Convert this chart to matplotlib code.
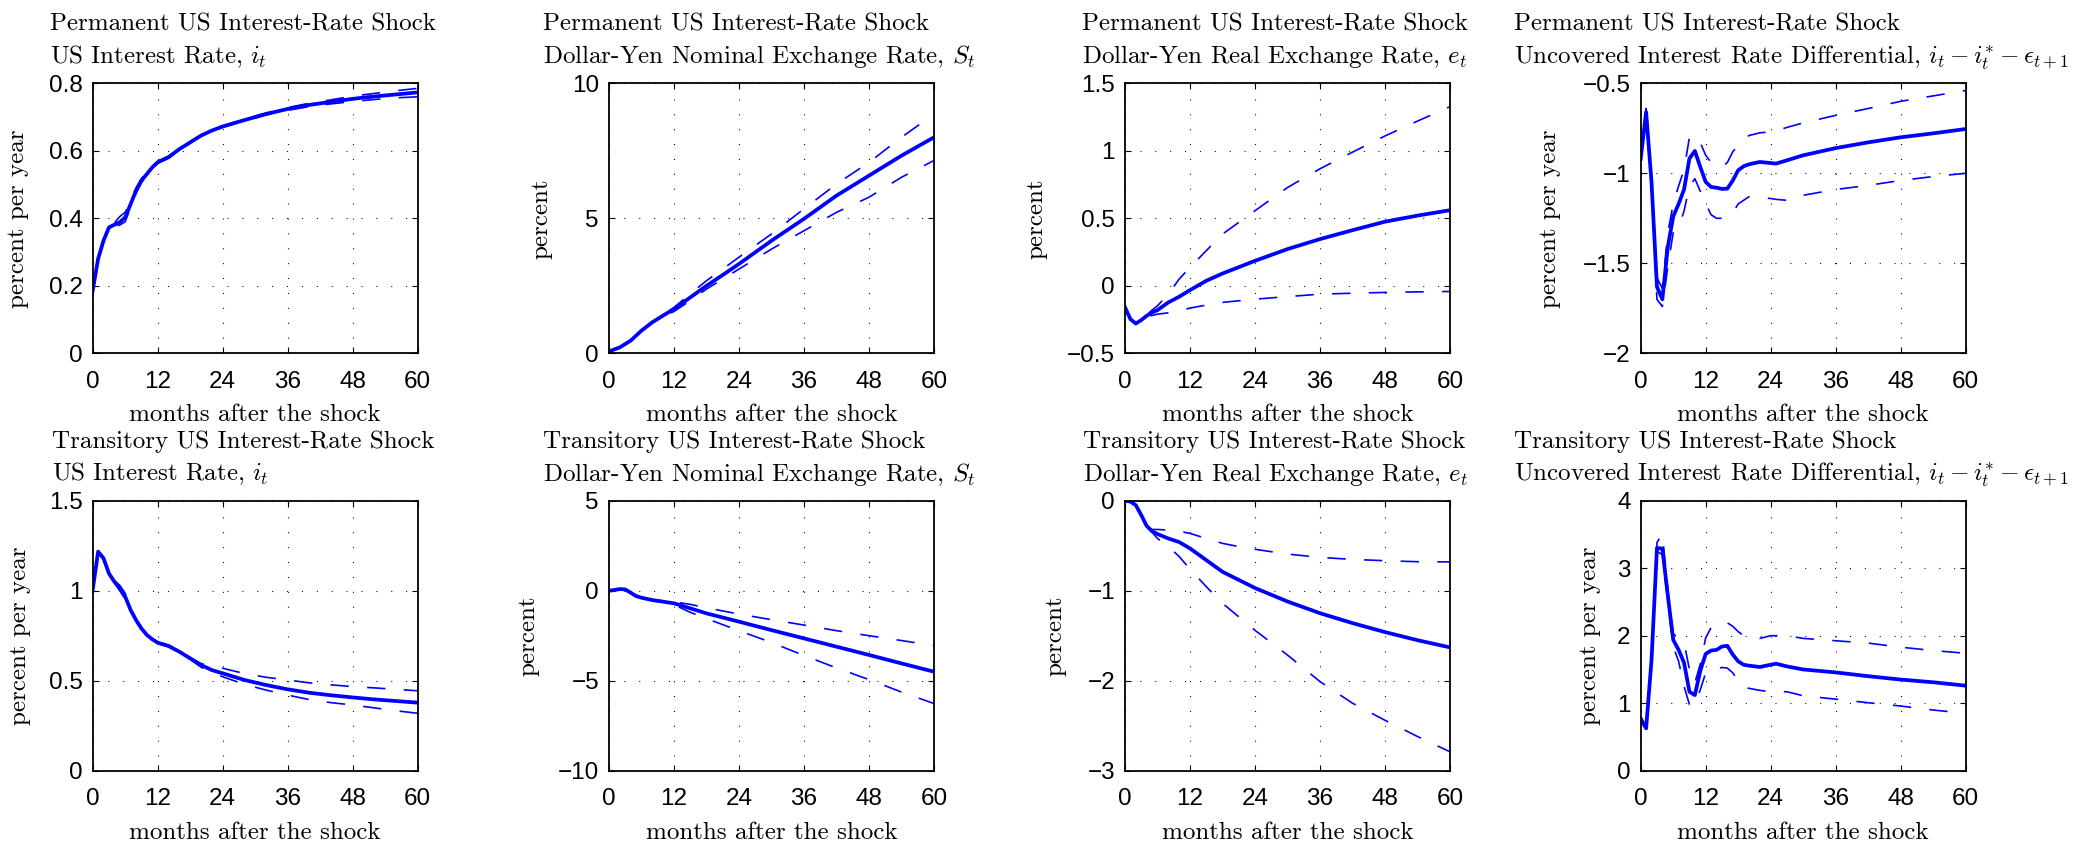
import matplotlib
matplotlib.use('Agg')
import matplotlib.pyplot as plt
from matplotlib.ticker import FuncFormatter, FixedLocator

plt.rcParams['font.family'] = ['Liberation Sans', 'DejaVu Sans']
plt.rcParams['mathtext.fontset'] = 'cm'

# ---------------- data ----------------
# Panel 1: permanent shock, US interest rate
m_p1 = [0, 1, 2, 3, 4, 5, 6, 7, 8, 9, 10, 11, 12, 14, 16, 18, 20, 22, 24, 28, 32, 36, 40, 44, 48, 52, 56, 60]
p1_mid = [0.186, 0.28, 0.334, 0.373, 0.381, 0.388, 0.403, 0.442, 0.482, 0.512, 0.531, 0.551, 0.566, 0.581, 0.605,
          0.625, 0.645, 0.66, 0.672, 0.691, 0.709, 0.724, 0.736, 0.745, 0.754, 0.761, 0.767, 0.773]
p1_hi = [0.186, 0.282, 0.338, 0.377, 0.386, 0.405, 0.418, 0.452, 0.49, 0.518, 0.537, 0.555, 0.569, 0.584, 0.607,
         0.627, 0.647, 0.662, 0.674, 0.694, 0.712, 0.728, 0.741, 0.751, 0.762, 0.77, 0.778, 0.785]
p1_lo = [0.186, 0.278, 0.330, 0.369, 0.376, 0.380, 0.390, 0.432, 0.474, 0.506, 0.526, 0.547, 0.563, 0.578, 0.603,
         0.623, 0.643, 0.658, 0.670, 0.688, 0.706, 0.72, 0.731, 0.739, 0.746, 0.752, 0.757, 0.760]

# Panel 2: permanent shock, nominal exchange rate
m_p2 = [0, 2, 4, 6, 8, 10, 12, 15, 18, 21, 24, 30, 36, 42, 48, 54, 60]
p2_mid = [0.07, 0.22, 0.47, 0.84, 1.15, 1.40, 1.64, 2.07, 2.5, 2.9, 3.31, 4.17, 4.98, 5.84, 6.58, 7.32, 8.0]
p2_hi = [0.07, 0.22, 0.47, 0.85, 1.17, 1.43, 1.70, 2.2, 2.69, 3.12, 3.56, 4.42, 5.35, 6.27, 7.07, 8.0, 8.86]
p2_lo = [0.07, 0.22, 0.47, 0.83, 1.13, 1.37, 1.55, 1.95, 2.38, 2.75, 3.12, 3.86, 4.54, 5.22, 5.78, 6.52, 7.14]

# Panel 3: permanent shock, real exchange rate
m_p3 = [0, 1, 2, 3, 4, 5, 6, 8, 10, 12, 15, 18, 24, 30, 36, 42, 48, 54, 60]
p3_mid = [-0.16, -0.247, -0.28, -0.254, -0.222, -0.198, -0.18, -0.123, -0.081, -0.032, 0.037, 0.091, 0.185,
          0.272, 0.346, 0.412, 0.475, 0.52, 0.56]
p3_hi = [-0.16, -0.247, -0.28, -0.254, -0.215, -0.18, -0.148, -0.062, 0.05, 0.136, 0.26, 0.383, 0.556, 0.728,
         0.867, 0.99, 1.11, 1.22, 1.327]
p3_lo = [-0.16, -0.247, -0.28, -0.254, -0.228, -0.22, -0.21, -0.20, -0.185, -0.165, -0.143, -0.123, -0.099,
         -0.08, -0.062, -0.055, -0.049, -0.045, -0.042]

# Panel 4: permanent shock, uncovered interest rate differential
m_p4 = [0, 1, 2, 3, 4, 5, 6, 7, 8, 9, 10, 11, 12, 13, 14, 15, 16, 17, 18, 19, 20, 22, 24, 25, 27, 30, 36, 42, 48, 54, 60]
p4_mid = [-0.92, -0.66, -1.05, -1.63, -1.70, -1.41, -1.24, -1.17, -1.09, -0.918, -0.876, -0.965, -1.048, -1.076,
          -1.08, -1.087, -1.085, -1.04, -0.983, -0.961, -0.95, -0.937, -0.943, -0.946, -0.928, -0.90, -0.86,
          -0.828, -0.80, -0.778, -0.754]
p4_hi = [-0.92, -0.64, -1.02, -1.58, -1.64, -1.33, -1.17, -1.07, -0.98, -0.80, -0.79, -0.83, -0.90, -0.94, -0.96,
         -0.965, -0.94, -0.88, -0.845, -0.81, -0.79, -0.775, -0.77, -0.765, -0.745, -0.72, -0.678, -0.64, -0.60,
         -0.57, -0.54]
p4_lo = [-0.92, -0.68, -1.08, -1.70, -1.74, -1.52, -1.33, -1.30, -1.21, -1.07, -1.03, -1.10, -1.17, -1.23, -1.25,
         -1.25, -1.24, -1.22, -1.17, -1.15, -1.13, -1.135, -1.14, -1.145, -1.15, -1.122, -1.09, -1.067, -1.04,
         -1.018, -1.0]

# Panel 5: transitory shock, US interest rate
m_p5 = [0, 1, 2, 3, 4, 5, 6, 7, 8, 9, 10, 11, 12, 14, 16, 18, 20, 22, 24, 28, 32, 36, 40, 44, 48, 52, 56, 60]
p5_mid = [1.004, 1.217, 1.18, 1.096, 1.05, 1.013, 0.967, 0.893, 0.837, 0.79, 0.754, 0.73, 0.711, 0.693, 0.661,
          0.624, 0.587, 0.559, 0.541, 0.504, 0.476, 0.452, 0.433, 0.419, 0.407, 0.396, 0.387, 0.378]
p5_hi = [1.004, 1.219, 1.184, 1.1, 1.056, 1.03, 0.985, 0.9, 0.842, 0.794, 0.758, 0.734, 0.715, 0.698, 0.666,
         0.629, 0.595, 0.58, 0.569, 0.54, 0.519, 0.504, 0.488, 0.477, 0.467, 0.46, 0.452, 0.444]
p5_lo = [1.004, 1.215, 1.176, 1.092, 1.045, 1.0, 0.955, 0.886, 0.832, 0.786, 0.75, 0.726, 0.707, 0.688, 0.656,
         0.619, 0.575, 0.545, 0.522, 0.48, 0.448, 0.42, 0.395, 0.378, 0.365, 0.349, 0.333, 0.319]

# Panel 6: transitory shock, nominal exchange rate
m_p6 = [0, 1, 2, 3, 4, 5, 6, 8, 10, 12, 15, 18, 24, 30, 36, 42, 48, 54, 60]
p6_mid = [0, 0.04, 0.09, 0.07, -0.11, -0.3, -0.39, -0.52, -0.61, -0.7, -0.98, -1.26, -1.72, -2.19, -2.65, -3.11,
          -3.57, -4.04, -4.5]
p6_hi = [0, 0.04, 0.09, 0.07, -0.11, -0.3, -0.39, -0.50, -0.56, -0.62, -0.76, -0.95, -1.30, -1.61, -1.91, -2.22,
         -2.50, -2.77, -3.05]
p6_lo = [0, 0.04, 0.09, 0.07, -0.11, -0.3, -0.39, -0.54, -0.66, -0.78, -1.2, -1.55, -2.22, -2.88, -3.6, -4.29,
         -4.94, -5.63, -6.27]

# Panel 7: transitory shock, real exchange rate
m_p7 = [0, 1, 2, 3, 4, 5, 6, 8, 10, 12, 15, 18, 21, 24, 30, 36, 42, 48, 54, 60]
p7_mid = [0, -0.01, -0.05, -0.16, -0.28, -0.34, -0.37, -0.42, -0.46, -0.53, -0.66, -0.79, -0.88, -0.97, -1.12,
          -1.25, -1.36, -1.46, -1.55, -1.63]
p7_hi = [0, -0.01, -0.05, -0.16, -0.28, -0.32, -0.32, -0.326, -0.34, -0.363, -0.42, -0.474, -0.51, -0.54, -0.593,
         -0.63, -0.652, -0.667, -0.678, -0.68]
p7_lo = [0, -0.01, -0.05, -0.16, -0.28, -0.35, -0.42, -0.51, -0.62, -0.76, -0.955, -1.14, -1.29, -1.44, -1.715,
         -2.01, -2.25, -2.44, -2.62, -2.79]

# Panel 8: transitory shock, uncovered interest rate differential
m_p8 = [0, 1, 2, 3, 4, 5, 6, 7, 8, 9, 10, 11, 12, 13, 14, 15, 16, 17, 18, 19, 20, 22, 24, 25, 27, 30, 36, 42, 48, 54, 60]
p8_mid = [0.775, 0.627, 1.64, 3.30, 3.29, 2.6, 1.94, 1.79, 1.6, 1.17, 1.12, 1.48, 1.73, 1.78, 1.79, 1.84, 1.85,
          1.72, 1.62, 1.57, 1.556, 1.536, 1.57, 1.585, 1.545, 1.50, 1.456, 1.40, 1.35, 1.31, 1.26]
p8_hi = [0.775, 0.63, 1.7, 3.38, 3.51, 2.68, 2.03, 1.95, 1.9, 1.5, 1.3, 1.58, 1.97, 2.12, 2.18, 2.19, 2.19, 2.14,
         2.06, 2.0, 1.98, 1.96, 2.0, 2.0, 2.0, 1.96, 1.925, 1.89, 1.83, 1.78, 1.74]
p8_lo = [0.775, 0.625, 1.6, 3.25, 3.2, 2.5, 1.84, 1.62, 1.25, 0.98, 0.97, 1.2, 1.45, 1.5, 1.50, 1.53, 1.52, 1.45,
         1.33, 1.24, 1.22, 1.19, 1.17, 1.17, 1.17, 1.11, 1.06, 1.007, 0.958, 0.899, 0.849]

row_titles = ['Permanent US Interest-Rate Shock', 'Transitory US Interest-Rate Shock']
var_titles = [r'US Interest Rate, $i_t$',
              r'Dollar-Yen Nominal Exchange Rate, $S_t$',
              r'Dollar-Yen Real Exchange Rate, $e_t$',
              r'Uncovered Interest Rate Differential, $i_t - i_t^{*} - \epsilon_{t+1}$']
y_labels = ['percent per year', 'percent', 'percent', 'percent per year']
x_label = 'months after the shock'
x_ticks = [0, 12, 24, 36, 48, 60]
y_ticks = [[0, 0.2, 0.4, 0.6, 0.8], [0, 5, 10], [-0.5, 0, 0.5, 1, 1.5], [-2, -1.5, -1, -0.5],
           [0, 0.5, 1, 1.5], [-10, -5, 0, 5], [-3, -2, -1, 0], [0, 1, 2, 3, 4]]

series = [(m_p1, p1_mid, p1_hi, p1_lo), (m_p2, p2_mid, p2_hi, p2_lo), (m_p3, p3_mid, p3_hi, p3_lo),
          (m_p4, p4_mid, p4_hi, p4_lo), (m_p5, p5_mid, p5_hi, p5_lo), (m_p6, p6_mid, p6_hi, p6_lo),
          (m_p7, p7_mid, p7_hi, p7_lo), (m_p8, p8_mid, p8_hi, p8_lo)]

# ---------------- layout ----------------
W, H = 2074, 843
fig = plt.figure(figsize=(W / 100, H / 100), dpi=100)
renderer = fig.canvas.get_renderer()
lefts = [92.7, 609, 1125, 1640.7]
tops = [83.3, 500.7]
aw, ah = 325, 270
ylabel_off = [63.4, 56.3, 78, 79.7, 61.7, 70, 58.3, 39.7]

fmt = FuncFormatter(lambda v, _: ('%g' % v).replace('-', '\u2212'))
blue = (0, 0, 1)
title_kw = dict(fontfamily='cmr10', fontsize=18, ha='left', va='baseline')

for i, (m, mid, hi, lo) in enumerate(series):
    r, c = divmod(i, 4)
    ax = fig.add_axes([lefts[c] / W, 1 - (tops[r] + ah) / H, aw / W, ah / H])
    ax.plot(m, hi, color=blue, lw=1.2, ls=(0, (11, 11)))
    ax.plot(m, lo, color=blue, lw=1.2, ls=(0, (11, 11)))
    ax.plot(m, mid, color=blue, lw=2.7, solid_joinstyle='round')
    ax.set_xlim(0, 60)
    yt = y_ticks[i]
    ax.set_ylim(yt[0], yt[-1])
    ax.xaxis.set_major_locator(FixedLocator(x_ticks))
    ax.yaxis.set_major_locator(FixedLocator(yt))
    ax.xaxis.set_major_formatter(fmt)
    ax.yaxis.set_major_formatter(fmt)
    ax.grid(True, color='k', linestyle=(0, (0.9, 12.5)), linewidth=0.8)
    ax.tick_params(direction='in', top=True, right=True, length=4, width=0.8, labelsize=17.5)
    ax.tick_params(axis='x', pad=12.5)
    ax.tick_params(axis='y', pad=7.2)
    for s in ax.spines.values():
        s.set_linewidth(1.3)
    ax.set_xlabel(x_label, fontfamily='cmr10', fontsize=18)
    ax.xaxis.set_label_coords(0.5, -50.7 / ah)
    ax.set_ylabel(y_labels[c], fontfamily='cmr10', fontsize=18)
    ax.yaxis.set_label_coords(-ylabel_off[i] / aw, 0.5)

    # two-line title: lines left-aligned, block centred over the axes
    t1 = fig.text(0, 0, row_titles[r], **title_kw)
    t2 = fig.text(0, 0, var_titles[c], **title_kw)
    bw = max(t1.get_window_extent(renderer).width, t2.get_window_extent(renderer).width)
    x0 = lefts[c] + aw / 2 - 12 - bw / 2
    t1.set_position((x0 / W, 1 - (tops[r] - 52.6) / H))
    t2.set_position((x0 / W, 1 - (tops[r] - 20.0) / H))

fig.savefig('out.png', dpi=100)
